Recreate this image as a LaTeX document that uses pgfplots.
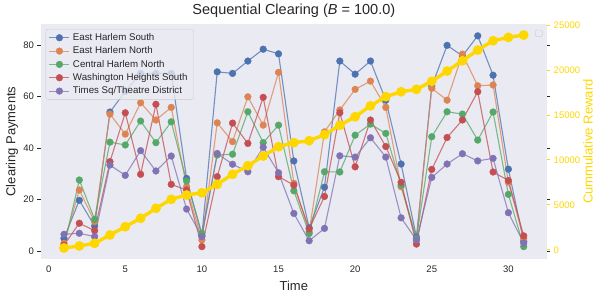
\documentclass[border=0pt]{standalone}
\usepackage{fontspec}
\setmainfont{Liberation Sans}
\usepackage{pgfplots}
\pgfplotsset{compat=1.18}
\definecolor{sbblue}{HTML}{4C72B0}
\definecolor{sborange}{HTML}{DD8452}
\definecolor{sbgreen}{HTML}{55A868}
\definecolor{sbred}{HTML}{C44E52}
\definecolor{sbpurple}{HTML}{8172B3}
\definecolor{gold}{HTML}{FFD700}
\definecolor{bg}{HTML}{EAEAF2}
\definecolor{txt}{HTML}{262626}
\pgfplotsset{
  ser/.style={color=#1, line width=1.1pt, draw opacity=0.75, mark=*, mark size=3.4pt,
    mark options={solid, draw opacity=1, fill opacity=1, draw=#1, fill=#1, line width=0.3pt}},
}
\begin{document}
\begin{tikzpicture}
\begin{axis}[
  at={(0,0)}, anchor=south west,
  scale only axis, width=505.7pt, height=234pt,
  xmin=-0.5, xmax=32.5, ymin=-2.9, ymax=88,
  axis background/.style={fill=bg},
  axis line style={draw=none},
  xtick={0,5,...,30}, ytick={0,20,...,80},
  tick align=outside, major tick length=3.5pt,
  xtick style={draw=none}, ytick style={draw=txt, line width=0.8pt},
  tick label style={font=\fontsize{9.5}{11}\selectfont, text=txt},
  /pgf/number format/assume math mode=true,
  xlabel={Time}, ylabel={Clearing Payments},
  label style={font=\fontsize{13}{15}\selectfont, text=txt},
  xlabel style={at={(axis description cs:0.5,0)}, anchor=center, yshift=-27.5pt},
  ylabel style={at={(axis description cs:-0.0573,0.5)}, anchor=center},
  title={Sequential Clearing (\textit{B} = 100.0)},
  title style={font=\fontsize{14.5}{16}\selectfont, text=txt, at={(axis description cs:0.5,1)}, anchor=center, yshift=7.5pt},
  legend style={at={(axis description cs:0.0093,0.9795)}, anchor=north west,
    fill=bg, fill opacity=0.8, text opacity=1, draw=black!20, rounded corners=2pt,
    font=\fontsize{9.7}{11}\selectfont, text=txt, row sep=0.8pt,
    nodes={inner xsep=3pt}},
  legend cell align=left,
  legend image code/.code={\draw[mark repeat=2,mark phase=2] plot coordinates {(0pt,0pt) (10pt,0pt) (20pt,0pt)};},
]
\addplot[ser=sbblue] coordinates {(1,4.9)(2,19.7)(3,9.7)(4,54)(5,62)(6,69)(7,69)(8,69)(9,28.2)(10,6)(11,69.6)(12,69)(13,73.8)(14,78.4)(15,76.6)(16,35)(17,9)(18,24.8)(19,73.8)(20,68.7)(21,73.8)(22,58.6)(23,33.8)(24,5.4)(25,64)(26,79.9)(27,75.8)(28,83.6)(29,68.3)(30,31.8)(31,3.8)};
\addlegendentry{East Harlem South}
\addplot[ser=sborange] coordinates {(1,3)(2,23.7)(3,11.4)(4,53.2)(5,45.4)(6,57.6)(7,50.9)(8,55.8)(9,25)(10,4.3)(11,49.8)(12,42.5)(13,59.9)(14,48.9)(15,69.4)(16,26.3)(17,7.5)(18,46.3)(19,54.8)(20,62.8)(21,66)(22,55.8)(23,25)(24,4.3)(25,63.2)(26,58.6)(27,76.5)(28,64.2)(29,64.5)(30,26.7)(31,4.9)};
\addlegendentry{East Harlem North}
\addplot[ser=sbgreen] coordinates {(1,1.7)(2,27.6)(3,12.3)(4,42.3)(5,41.2)(6,50.5)(7,42.1)(8,50.2)(9,27.2)(10,6.9)(11,37.3)(12,37.6)(13,54.1)(14,42.1)(15,48.9)(16,23.4)(17,6.8)(18,30.8)(19,30.7)(20,45)(21,49.3)(22,45.7)(23,25.6)(24,4.9)(25,44.4)(26,54.1)(27,53.2)(28,43.1)(29,54)(30,22)(31,1.7)};
\addlegendentry{Central Harlem North}
\addplot[ser=sbred] coordinates {(1,2.3)(2,10.8)(3,7.9)(4,34.7)(5,53.7)(6,29.8)(7,57)(8,25.9)(9,23.7)(10,1.7)(11,28.9)(12,49.7)(13,41.8)(14,59.7)(15,28.9)(16,25.6)(17,8.6)(18,21.2)(19,53.7)(20,32.7)(21,50.9)(22,40.6)(23,26.7)(24,2.7)(25,31.7)(26,44.1)(27,50.9)(28,61.9)(29,30.7)(30,27.4)(31,5.9)};
\addlegendentry{Washington Heights South}
\addplot[ser=sbpurple] coordinates {(1,6.5)(2,6.9)(3,5.6)(4,33.4)(5,29.4)(6,39)(7,31.1)(8,36.9)(9,16.3)(10,5.6)(11,37.9)(12,33.7)(13,30.8)(14,40.3)(15,30.4)(16,14.6)(17,4)(18,8.8)(19,37)(20,36.5)(21,44)(22,36.5)(23,12.9)(24,4.3)(25,28.6)(26,33.8)(27,37.8)(28,35)(29,36)(30,14.9)(31,3.1)};
\addlegendentry{Times Sq/Theatre District}
\end{axis}
\begin{axis}[
  at={(0,0)}, anchor=south west,
  scale only axis, width=505.7pt, height=234pt,
  xmin=-0.5, xmax=32.5, ymin=-970, ymax=25060,
  axis x line=none, axis y line*=right, axis line style={draw=none},
  ytick={0,5000,...,25000},
  tick align=outside, major tick length=3.5pt,
  ytick style={draw=gold, line width=0.8pt},
  yticklabel style={text=gold, font=\fontsize{9.5}{11}\selectfont},
  /pgf/number format/assume math mode=true,
  /pgf/number format/1000 sep={},
  scaled y ticks=false,
  ylabel={Cummulative Reward},
  ylabel style={text=gold, font=\fontsize{13}{15}\selectfont, at={(axis description cs:1.0817,0.5)}, anchor=center},
]
\addplot[color=gold, line width=3.4pt, mark=*, mark size=3.1pt, mark options={solid}] coordinates {(1,200)(2,423)(3,723)(4,1646)(5,2569)(6,3503)(7,4615)(8,5616)(9,6094)(10,6339)(11,7284)(12,8396)(13,9352)(14,10431)(15,11465)(16,11909)(17,12132)(18,12799)(19,13855)(20,14800)(21,16012)(22,17025)(23,17581)(24,17848)(25,18737)(26,19882)(27,21027)(28,22217)(29,23251)(30,23629)(31,23885)};
\draw[draw=black!18, fill=bg, rounded corners=1pt] (rel axis cs:0.9782,0.9765) rectangle (rel axis cs:0.9913,0.948);
\end{axis}
\pgfresetboundingbox
\path (-41pt,-36.5pt) rectangle (554pt,258.5pt);
\end{tikzpicture}
\end{document}
